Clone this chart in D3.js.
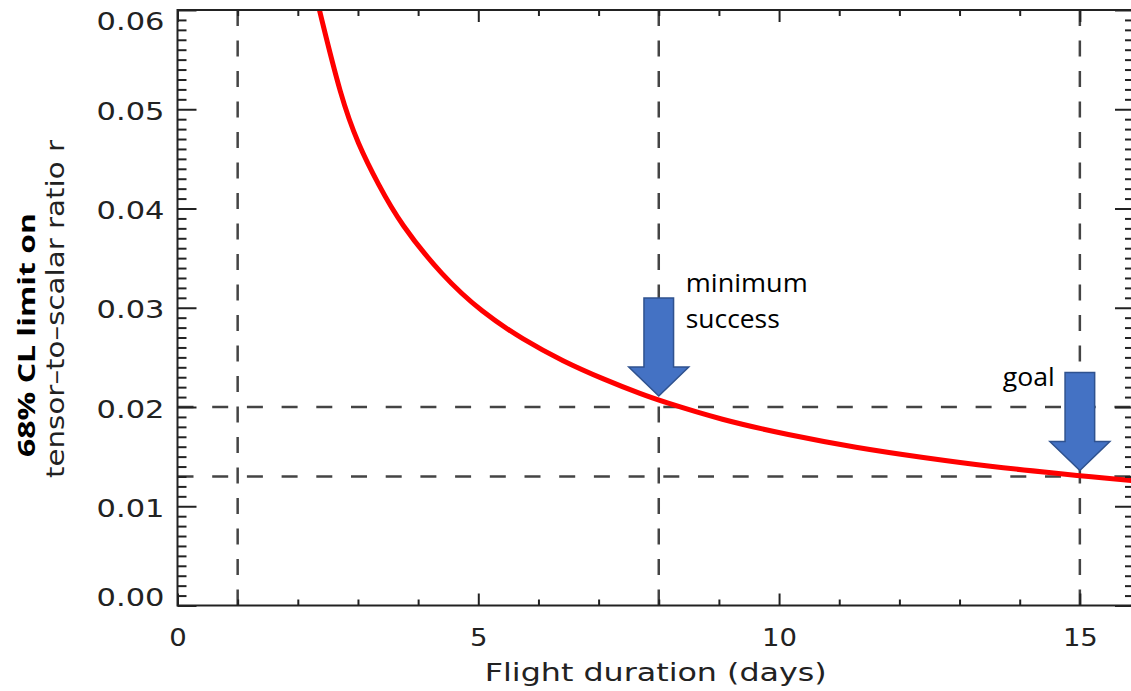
<!DOCTYPE html>
<html><head><meta charset="utf-8">
<script src="https://cdn.jsdelivr.net/npm/d3@7"></script>
<style>body{margin:0;background:#fff;overflow:hidden} svg{display:block}</style>
</head><body>
<svg id="chart" width="1131" height="691"></svg>
<script>
// ---- data ----
const flightDays = [2.3, 2.35, 2.72, 3.0, 3.34, 3.7, 4.4, 5.07, 5.74, 6.41, 7.08, 7.75, 8.04, 9.04, 10.15, 11.28, 12.4, 13.51, 14.63, 15.13, 16.0];
const limitR     = [0.0615, 0.0602, 0.0511, 0.0465, 0.0424, 0.0385, 0.0332, 0.0295, 0.0268, 0.0246, 0.0228, 0.0212, 0.0206, 0.0187, 0.0172, 0.0159, 0.0149, 0.0140, 0.0133, 0.0130, 0.0125];
const xMajorTicks = [0, 5, 10, 15];
const xMinorTicks = [1, 2, 3, 4, 6, 7, 8, 9, 11, 12, 13, 14];
const xTickLabels = ["0", "5", "10", "15"];
const yMajorTicks = [0, 0.01, 0.02, 0.03, 0.04, 0.05, 0.06];
const yTickLabels = ["0.00", "0.01", "0.02", "0.03", "0.04", "0.05", "0.06"];
const refDays = [1, 8, 15];
const refLimits = [0.02, 0.013];
const markerDays = [8, 15];
const markerR = [0.0204, 0.0129];
const markerLabels = [["minimum", "success"], ["goal"]];
const xTitle = "Flight duration (days)";
const yTitleBold = "68% CL limit on";
const yTitle = "tensor\u2013to\u2013scalar ratio r";

// ---- layout ----
const L = 177.5, R = 1134, T = 10, B = 605.5;
const x = d3.scaleLinear().domain([0, 15.9]).range([L, R]);
const y = d3.scaleLinear().domain([0, 0.06]).range([B, T]);
const ink = "#222";
const svg = d3.select("#chart");
const axisFont = "'DejaVu Sans', sans-serif";

svg.append("defs").append("clipPath").attr("id", "plot")
  .append("rect").attr("x", L).attr("y", T).attr("width", R - L).attr("height", B - T);

function styleAxis(g) {
  g.select(".domain").remove();
  g.selectAll(".tick line").attr("stroke", ink).attr("stroke-width", 2);
  g.selectAll("text").attr("fill", ink).style("font-family", axisFont).style("font-size", "25px");
}
function stretch(sel, k) {
  sel.each(function () {
    const n = this.getComputedTextLength();
    d3.select(this).attr("textLength", n * k).attr("lengthAdjust", "spacingAndGlyphs");
  });
}

// dashed reference lines
const dashes = svg.append("g").attr("clip-path", "url(#plot)");
dashes.selectAll("line.v").data(refDays).join("line").attr("class", "v")
  .attr("x1", d => x(d)).attr("x2", d => x(d)).attr("y1", T).attr("y2", B)
  .attr("stroke", "#444").attr("stroke-width", 2.5).attr("stroke-dasharray", "16,14.5");
dashes.selectAll("line.h").data(refLimits).join("line").attr("class", "h")
  .attr("x1", L).attr("x2", R).attr("y1", d => y(d)).attr("y2", d => y(d))
  .attr("stroke", "#444").attr("stroke-width", 2.5).attr("stroke-dasharray", "16,18.7");

// curve
const pts = flightDays.map((d, i) => [d, limitR[i]]);
svg.append("path").attr("clip-path", "url(#plot)")
  .attr("d", d3.line().x(d => x(d[0])).y(d => y(d[1])).curve(d3.curveBasis)(pts))
  .attr("fill", "none").attr("stroke", "#ff0000").attr("stroke-width", 5);

// axes
const gB = svg.append("g").attr("transform", `translate(0,${B})`)
  .call(d3.axisBottom(x).tickValues(xMajorTicks).tickSizeInner(-12).tickSizeOuter(0).tickPadding(23)
    .tickFormat((d, i) => xTickLabels[i]));
styleAxis(gB); stretch(gB.selectAll("text"), 1.1);
const gBm = svg.append("g").attr("transform", `translate(0,${B})`)
  .call(d3.axisBottom(x).tickValues(xMinorTicks).tickSizeInner(-6).tickSizeOuter(0).tickFormat(""));
styleAxis(gBm);
const gT = svg.append("g").attr("transform", `translate(0,${T})`)
  .call(d3.axisTop(x).tickValues(xMajorTicks).tickSizeInner(-12).tickSizeOuter(0).tickFormat(""));
styleAxis(gT);
const gTm = svg.append("g").attr("transform", `translate(0,${T})`)
  .call(d3.axisTop(x).tickValues(xMinorTicks).tickSizeInner(-6).tickSizeOuter(0).tickFormat(""));
styleAxis(gTm);

const yMinor = d3.range(0, 61).map(i => i / 1000).filter(v => Math.round(v * 1000) % 10 !== 0);
const gL = svg.append("g").attr("transform", `translate(${L},0)`)
  .call(d3.axisLeft(y).tickValues(yMajorTicks).tickSizeInner(-19).tickSizeOuter(0).tickPadding(13)
    .tickFormat((d, i) => yTickLabels[i]));
styleAxis(gL);
gL.selectAll(".tick text").attr("dy", "0.4em")
  .attr("y", d => { const p = y(d); return Math.min(Math.max(p, T + 9), B - 10) - p; });
stretch(gL.selectAll("text"), 1.22);
const gLm = svg.append("g").attr("transform", `translate(${L},0)`)
  .call(d3.axisLeft(y).tickValues(yMinor).tickSizeInner(-9).tickSizeOuter(0).tickFormat(""));
styleAxis(gLm);
const gR = svg.append("g").attr("transform", `translate(${R},0)`)
  .call(d3.axisRight(y).tickValues(yMajorTicks).tickSizeInner(-19).tickSizeOuter(0).tickFormat(""));
styleAxis(gR);
const gRm = svg.append("g").attr("transform", `translate(${R},0)`)
  .call(d3.axisRight(y).tickValues(yMinor).tickSizeInner(-9).tickSizeOuter(0).tickFormat(""));
styleAxis(gRm);

// frame
svg.append("rect").attr("x", L).attr("y", T).attr("width", R - L).attr("height", B - T)
  .attr("fill", "none").attr("stroke", ink).attr("stroke-width", 2);

// axis titles
svg.append("text").attr("x", (L + R) / 2).attr("y", 681).attr("text-anchor", "middle")
  .attr("fill", ink).style("font-family", axisFont).style("font-size", "25px")
  .text(xTitle).attr("textLength", 342).attr("lengthAdjust", "spacingAndGlyphs");
svg.append("text").attr("transform", "translate(64,309) rotate(-90)").attr("text-anchor", "middle")
  .attr("fill", ink).style("font-family", axisFont).style("font-size", "25px")
  .text(yTitle).attr("textLength", 338).attr("lengthAdjust", "spacingAndGlyphs");
svg.append("text").attr("transform", "translate(35,335) rotate(-90)").attr("text-anchor", "middle")
  .attr("fill", "#000").style("font-family", "'Open Sans', sans-serif").style("font-size", "24px")
  .style("font-weight", "bold")
  .text(yTitleBold).attr("textLength", 244).attr("lengthAdjust", "spacingAndGlyphs");

// annotation arrows
const shaftHalf = 14.8, headHalf = 30, headLen = 29, shaftLen = 69, tipGap = 7;
const labelWidths = { minimum: 122, success: 94, goal: 52 };
markerDays.forEach((d, i) => {
  const tx = x(d), ty = y(markerR[i]) - tipGap;
  const poly = [
    [tx, ty], [tx - headHalf, ty - headLen], [tx - shaftHalf, ty - headLen],
    [tx - shaftHalf, ty - headLen - shaftLen], [tx + shaftHalf, ty - headLen - shaftLen],
    [tx + shaftHalf, ty - headLen], [tx + headHalf, ty - headLen]
  ];
  svg.append("polygon").attr("points", poly.map(p => p.join(",")).join(" "))
    .attr("fill", "#4472C4").attr("stroke", "#2F528F").attr("stroke-width", 1.5)
    .attr("stroke-linejoin", "miter");
  const lines = markerLabels[i];
  const lx = i === 0 ? tx + 27 : tx - 77;
  const ly = i === 0 ? ty - 104 : ty - 84;
  lines.forEach((t, j) => {
    svg.append("text").attr("x", lx).attr("y", ly + j * 36)
      .attr("fill", "#000").style("font-family", "'Open Sans', sans-serif").style("font-size", "25px")
      .text(t).attr("textLength", labelWidths[t]).attr("lengthAdjust", "spacingAndGlyphs");
  });
});
</script>
</body></html>
